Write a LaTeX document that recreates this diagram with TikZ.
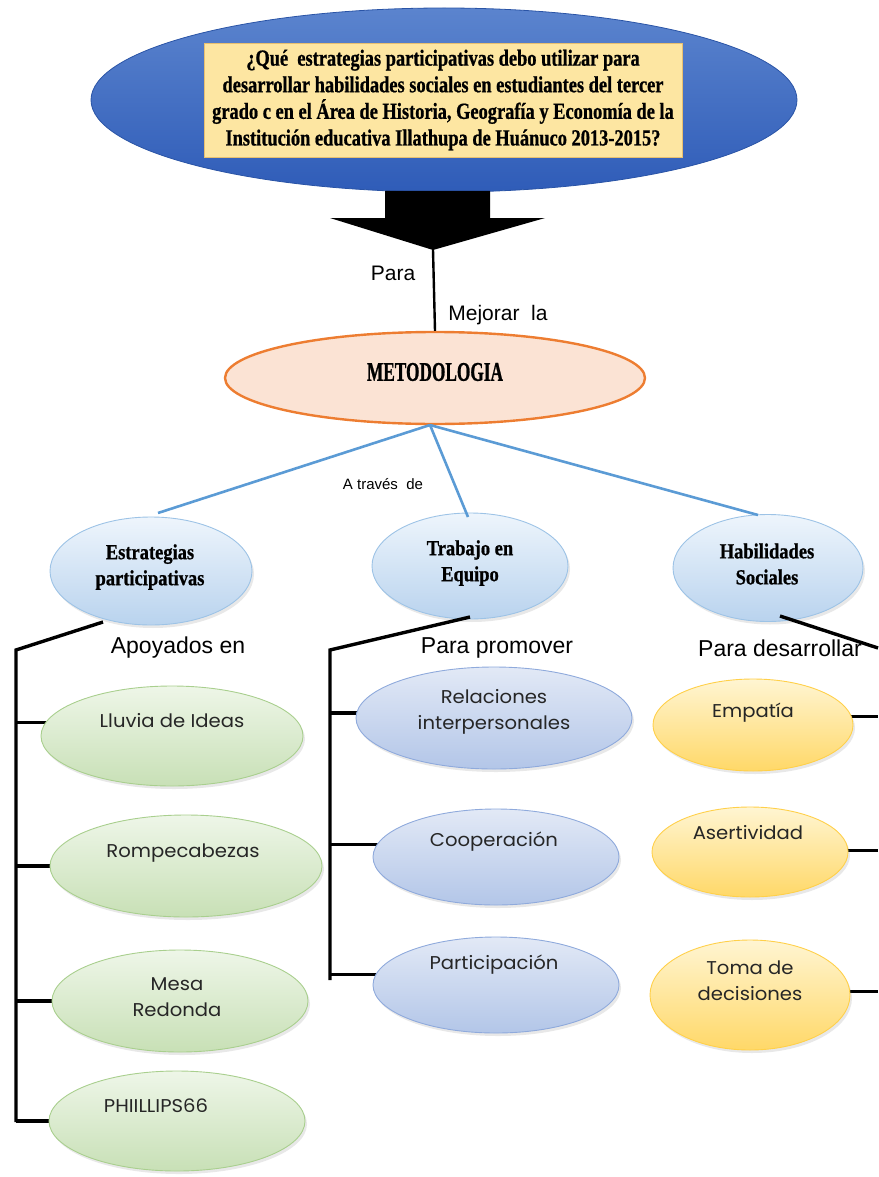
\documentclass[tikz,border=0pt]{standalone}
\usepackage{fontspec}
\setmainfont{Liberation Sans}
\newfontfamily\titlefont[FakeStretch=0.80,FakeBold=0.8]{Liberation Serif}
\newfontfamily\metfont[FakeStretch=0.64,FakeBold=0.8]{Liberation Serif}
\newfontfamily\bubfont[FakeStretch=0.86,FakeBold=0.8]{Liberation Serif}
\newfontfamily\geo[FakeStretch=1.06]{Poppins}
\usetikzlibrary{shapes.geometric,shadows}
\pgfdeclarelayer{bg}
\pgfsetlayers{bg,main}
\definecolor{topblueA}{HTML}{5B84CE}
\definecolor{topblueB}{HTML}{2F5CB8}
\definecolor{topblueD}{HTML}{2A54A6}
\definecolor{qbox}{HTML}{FDE6A2}
\definecolor{qboxline}{HTML}{E8C070}
\definecolor{metfill}{HTML}{FBE3D4}
\definecolor{metline}{HTML}{ED7D31}
\definecolor{linkblue}{HTML}{5B9BD5}
\definecolor{cirA}{HTML}{EEF5FC}
\definecolor{cirB}{HTML}{B9D3EE}
\definecolor{cirline}{HTML}{9DC3E6}
\definecolor{grA}{HTML}{EEF6E8}
\definecolor{grB}{HTML}{C8E0B6}
\definecolor{grline}{HTML}{A9CF8E}
\definecolor{blA}{HTML}{E2E9F6}
\definecolor{blB}{HTML}{B3C6E8}
\definecolor{blline}{HTML}{8FAADC}
\definecolor{yeA}{HTML}{FFF5D2}
\definecolor{yeB}{HTML}{FFD868}
\definecolor{yeline}{HTML}{FFD04A}
\tikzset{
  x=1pt,y=-1pt,
  oval/.style={ellipse,inner sep=0pt,line width=0.9pt,
    drop shadow={opacity=0.18,shadow xshift=2pt,shadow yshift=-3pt}},
  bubble/.style={oval,draw=cirline,top color=cirA,bottom color=cirB},
  greenov/.style={oval,draw=grline,top color=grA,bottom color=grB},
  blueov/.style={oval,draw=blline,top color=blA,bottom color=blB},
  yellowov/.style={oval,draw=yeline,top color=yeA,bottom color=yeB},
  ovtext/.style={font=\geo\fontsize{18.5}{26}\selectfont,align=center,text=black!85,inner sep=0pt},
  bubtext/.style={font=\bubfont\bfseries\fontsize{21.5}{26}\selectfont,align=center,inner sep=0pt},
  lbl/.style={font=\fontsize{23}{25}\selectfont,inner sep=0pt},
  lblsm/.style={font=\fontsize{21}{23}\selectfont,inner sep=0pt},
  bar/.style={line width=3.4pt,black},
  link/.style={line width=2.6pt,linkblue},
}
\begin{document}
\begin{tikzpicture}
\useasboundingbox (0,0) rectangle (878,1177);
% question ellipse
\node[ellipse,minimum width=706pt,minimum height=184pt,inner sep=0pt,
      top color=topblueA,bottom color=topblueB,draw=topblueD,line width=0.8pt] (q) at (444,100) {};
\node[draw=qboxline,fill=qbox,line width=0.6pt,minimum width=478pt,minimum height=114pt,inner sep=0pt,
      font=\titlefont\bfseries\fontsize{23}{26.6}\selectfont,align=center] (qt) at (443,100)
  {¿Qué\ \ estrategias participativas debo utilizar para\\
   desarrollar habilidades sociales en estudiantes del tercer\\
   grado c en el Área de Historia, Geografía y Economía de la\\
   Institución educativa Illathupa de Huánuco 2013-2015?};
% block arrow
\coordinate (tip) at (433,250);
\fill[black] (385,191) -- (490,191) -- (490,218) -- (545,218) -- (tip) -- (330,218) -- (385,218) -- cycle;
% metodologia
\node[ellipse,minimum width=420pt,minimum height=92pt,inner sep=0pt,fill=metfill,draw=metline,line width=2.4pt] (met) at (435,378) {};
\node[font=\metfont\bfseries\fontsize{27}{29}\selectfont,inner sep=0pt] (mett) at (435,372) {METODOLOGIA};
\draw[line width=2.4pt] (tip) -- (met.north);
\node[lblsm] (para) at (393,273) {Para};
\node[lblsm] (mej) at (498,315) {Mejorar\ \ la};
% bubbles
\node[bubble,minimum width=202pt,minimum height=108pt] (est) at (151,571) {};
\node[bubtext] (estt) at (150,567) {Estrategias\\participativas};
\node[bubble,minimum width=196pt,minimum height=106pt] (tra) at (470,566) {};
\node[bubtext] (trat) at (470,563) {Trabajo en\\Equipo};
\node[bubble,minimum width=190pt,minimum height=107pt] (hab) at (768,568) {};
\node[bubtext] (habt) at (767,564) {Habilidades\\Sociales};
% blue links
\coordinate (hub) at (430,425);
\draw[link] (hub) -- (158,513);
\draw[link] (hub) -- (468,517);
\draw[link] (hub) -- (758,515);
\node[font=\fontsize{15}{17}\selectfont,inner sep=0pt] (atr) at (383,484) {A\ través\ \ de};
% left column
\coordinate (l1) at (103,622);
\coordinate (l2) at (16,650);
\coordinate (l3) at (16,1122);
\draw[bar,line join=miter] (l1) -- (l2) -- (l3);
\node[lbl] (apo) at (178,648) {Apoyados en};
\node[greenov,minimum width=262pt,minimum height=100pt] (llu) at (172,736) {};
\node[ovtext] (llut) at (172,721) {Lluvia de Ideas};
\node[greenov,minimum width=272pt,minimum height=102pt] (rom) at (186,866) {};
\node[ovtext] (romt) at (183,853) {Rompecabezas};
\node[greenov,minimum width=256pt,minimum height=102pt] (mes) at (180,1001) {};
\node[ovtext] (mest) at (177,997) {Mesa\\Redonda};
\node[greenov,minimum width=256pt,minimum height=100pt] (phi) at (177,1121) {};
\node[ovtext] (phit) at (156,1106) {PHIILLIPS66};
% middle column
\coordinate (m1) at (470,617);
\coordinate (m2) at (330,650);
\coordinate (m3) at (330,980);
\draw[bar,line join=miter] (m1) -- (m2) -- (m3);
\node[lbl] (pro) at (497,648) {Para promover};
\node[blueov,minimum width=276pt,minimum height=102pt] (rel) at (494,718) {};
\node[ovtext] (relt) at (494,712) {Relaciones\\interpersonales};
\node[blueov,minimum width=246pt,minimum height=96pt] (coo) at (496,857) {};
\node[ovtext] (coot) at (494,842) {Cooperación};
\node[blueov,minimum width=246pt,minimum height=96pt] (par) at (496,985) {};
\node[ovtext] (part) at (494,965) {Participación};
% right column
\coordinate (r1) at (780,616);
\coordinate (r2) at (878,648);
\draw[bar] (r1) -- (r2);
\node[lbl] (des) at (780,648) {Para desarrollar};
\node[yellowov,minimum width=200pt,minimum height=92pt] (emp) at (753,725) {};
\node[ovtext] (empt) at (753,713) {Empatía};
\node[yellowov,minimum width=196pt,minimum height=90pt] (ase) at (750,852) {};
\node[ovtext] (aset) at (748,833) {Asertividad};
\node[yellowov,minimum width=200pt,minimum height=110pt] (tom) at (750,995) {};
\node[ovtext] (tomt) at (750,981) {Toma de\\decisiones};
% ticks, drawn behind the ovals so that they meet their edges
\begin{pgfonlayer}{bg}
\draw[bar] (l2 |- llu.174) -- ([xshift=5pt]llu.174);
\draw[bar] (l2 |- rom.west) -- ([xshift=5pt]rom.west);
\draw[bar] (l2 |- mes.west) -- ([xshift=5pt]mes.west);
\draw[bar] (l2 |- phi.west) -- ([xshift=5pt]phi.west);
\draw[bar] (m2 |- rel.178.3) -- ([xshift=5pt]rel.178.3);
\draw[bar] (m2 |- coo.174.75) -- ([xshift=5pt]coo.174.75);
\draw[bar] (m2 |- par.175.25) -- ([xshift=5pt]par.175.25);
\draw[bar] ([xshift=-5pt]emp.5.85) -- (r2 |- emp.5.85);
\draw[bar] ([xshift=-5pt]ase.1.2) -- (r2 |- ase.1.2);
\draw[bar] ([xshift=-5pt]tom.2.3) -- (r2 |- tom.2.3);
\end{pgfonlayer}
\end{tikzpicture}
\end{document}
